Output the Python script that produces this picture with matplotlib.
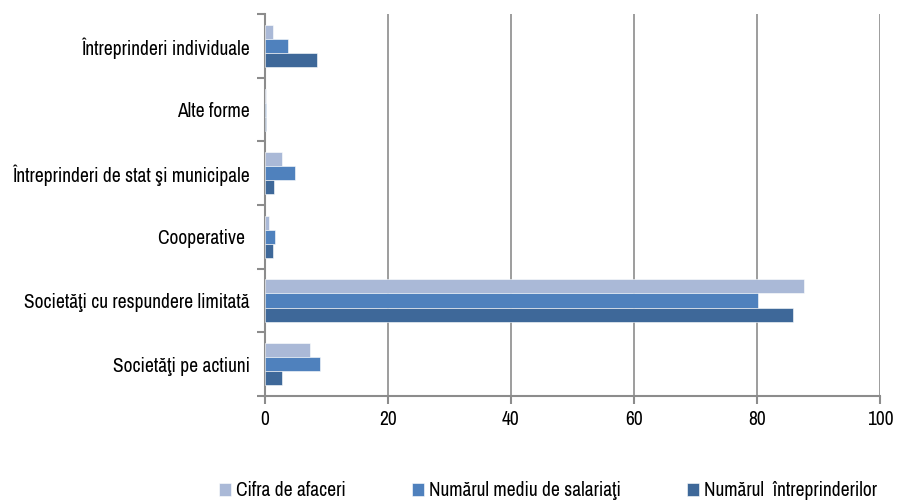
import numpy as np
import matplotlib.pyplot as plt
from matplotlib.ticker import FixedLocator

plt.rcParams['font.family'] = ['Archivo Narrow', 'DejaVu Sans']

categories = ["Societăţi pe actiuni", "Societăţi cu respundere limitată", "Cooperative ",
              "Întreprinderi de stat şi municipale", "Alte forme", "Întreprinderi individuale"]
cifra_afaceri = [7.4, 87.6, 0.7, 2.8, 0.1, 1.35]
salariati = [9.0, 80.2, 1.6, 4.9, 0.1, 3.8]
intreprinderi = [2.8, 85.8, 1.35, 1.5, 0.2, 8.4]
series_names = ["Cifra de afaceri", "Numărul mediu de salariaţi", "Numărul  întreprinderilor"]
colors = ["#AAB9D7", "#4F81BD", "#3E6899"]

fig = plt.figure(figsize=(8.97, 5.01), dpi=100)
ax = fig.add_axes([0.2954, 0.2096, 0.6856, 0.7624])

y = np.arange(len(categories))
h = 0.22
bars = []
for k, (vals, name, c) in enumerate(zip([cifra_afaceri, salariati, intreprinderi], series_names, colors)):
    bars.append(ax.barh(y + (1 - k) * h, vals, height=h, color=c, label=name, zorder=3,
                        edgecolor='white', linewidth=0.4))

ax.set_xlim(0, 100)
ax.set_ylim(-0.5, len(categories) - 0.5)
ax.set_xticks([0, 20, 40, 60, 80, 100])
ax.grid(axis='x', color='#8c8c8c', linewidth=1.2, zorder=0)
ax.set_yticks(y)
ax.set_yticklabels(categories)
ax.yaxis.set_minor_locator(FixedLocator(np.arange(-0.5, len(categories), 1)))
ax.tick_params(axis='y', which='major', length=0, pad=11, labelsize=14)
ax.tick_params(axis='y', which='minor', length=6, width=1.5, color='#8c8c8c')
ax.tick_params(axis='x', length=6, width=1.5, color='#8c8c8c', labelsize=14, pad=4)

for s in ['top', 'right']:
    ax.spines[s].set_visible(False)
for s in ['left', 'bottom']:
    ax.spines[s].set_color('#8c8c8c')
    ax.spines[s].set_linewidth(1.5)

# legend entries placed one by one, like the original
for b, x0 in zip(bars, [219, 412, 687]):
    fig.legend(handles=[b], loc='center left', bbox_to_anchor=(x0 / 897, 1 - 491 / 501),
               frameon=False, fontsize=14, handlelength=0.6, handleheight=0.6,
               handletextpad=0.25, borderpad=0, borderaxespad=0)

fig.savefig("out.png", dpi=100)
